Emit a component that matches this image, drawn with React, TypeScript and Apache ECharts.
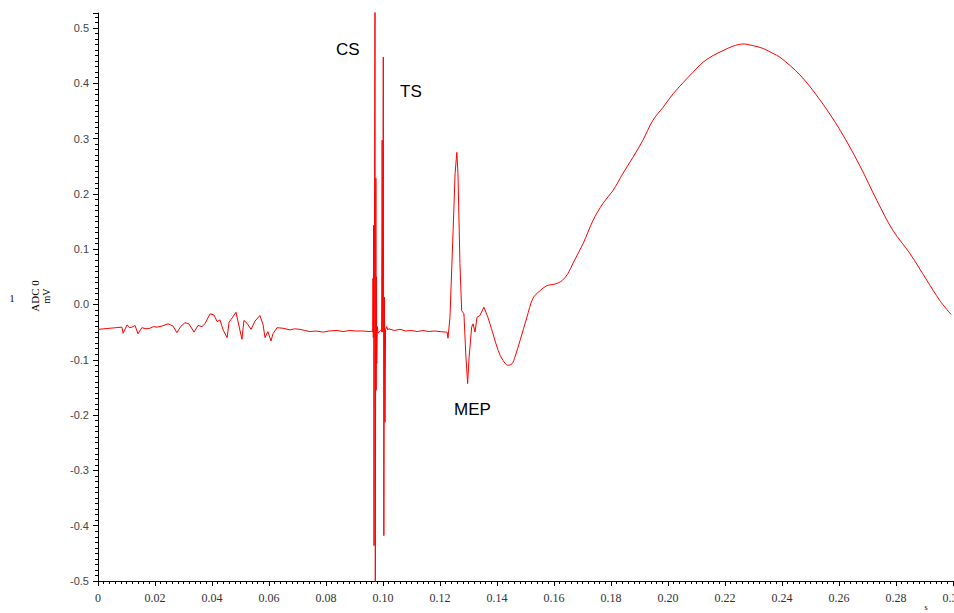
import React, { useEffect, useRef } from "react";
import * as echarts from "echarts";

// time (s), amplitude (mV)
const preBaseline: [number, number][] = [
  [0.0, -0.045], [0.0021, -0.044], [0.0042, -0.043], [0.0063, -0.042], [0.0084, -0.041],
  [0.0088, -0.052], [0.0102, -0.037], [0.0112, -0.042], [0.0119, -0.041], [0.013, -0.038],
  [0.014, -0.053], [0.0154, -0.042], [0.0168, -0.044], [0.0182, -0.043], [0.0195, -0.04],
  [0.0207, -0.041], [0.0225, -0.039], [0.0246, -0.035], [0.0263, -0.039], [0.0277, -0.051],
  [0.029, -0.04], [0.0305, -0.033], [0.0319, -0.035], [0.0337, -0.05], [0.0351, -0.038],
  [0.0365, -0.04], [0.0375, -0.035], [0.0393, -0.017], [0.0407, -0.019], [0.0418, -0.031],
  [0.0428, -0.028], [0.0439, -0.046], [0.0453, -0.06], [0.046, -0.032], [0.0474, -0.022],
  [0.0484, -0.014], [0.0491, -0.03], [0.0505, -0.063], [0.0512, -0.029], [0.0523, -0.034],
  [0.0537, -0.045], [0.0551, -0.03], [0.0568, -0.02], [0.0579, -0.036], [0.0586, -0.06],
  [0.0596, -0.049], [0.0607, -0.066], [0.0614, -0.053], [0.0628, -0.042], [0.0649, -0.043],
  [0.0674, -0.046], [0.069, -0.044], [0.0709, -0.045], [0.0725, -0.047], [0.0744, -0.049],
  [0.0765, -0.048], [0.079, -0.05], [0.081, -0.048], [0.0839, -0.047], [0.086, -0.049],
  [0.0884, -0.047], [0.0905, -0.048], [0.093, -0.048], [0.0955, -0.049],
];

const csArtifact: [number, number][] = [
  [0.0961, -0.048], [0.0964, -0.05], [0.0965, 0.047], [0.0966, -0.06], [0.0967, 0.143],
  [0.09685, -0.436], [0.097, 0.1], [0.0972, 0.56], [0.0973, -0.56], [0.0975, 0.228],
  [0.0976, -0.155], [0.0977, 0.05], [0.0978, -0.107], [0.098, -0.04], [0.0983, -0.052],
  [0.0987, -0.049], [0.0991, -0.047], [0.0995, -0.049],
];

const tsArtifact: [number, number][] = [
  [0.0996, -0.048], [0.0997, 0.297], [0.0999, -0.05], [0.1001, 0.447], [0.1003, -0.418],
  [0.1005, 0.013], [0.1007, -0.213], [0.1009, -0.045], [0.1013, -0.04], [0.1017, -0.046],
];

const midBaseline: [number, number][] = [
  [0.102, -0.044], [0.104, -0.047], [0.106, -0.045], [0.108, -0.048], [0.11, -0.047],
  [0.112, -0.049], [0.114, -0.047], [0.116, -0.049], [0.118, -0.048], [0.12, -0.049],
  [0.122, -0.05],
];

const mepResponse: [number, number][] = [
  [0.1225, -0.05], [0.1228, -0.061], [0.1235, -0.023], [0.1246, 0.134], [0.1253, 0.237],
  [0.1259, 0.275], [0.1263, 0.237], [0.127, 0.074], [0.1276, -0.011], [0.1284, -0.017],
  [0.1291, -0.095], [0.1297, -0.143], [0.1302, -0.096], [0.1311, -0.041], [0.1316, -0.035],
  [0.1323, -0.05], [0.133, -0.023], [0.134, -0.02], [0.1354, -0.005], [0.1368, -0.023],
];

const lateWave: [number, number][] = [
  [0.1368, -0.023],
  [0.1386, -0.053], [0.1404, -0.083], [0.1421, -0.101], [0.1439, -0.11], [0.1453, -0.107],
  [0.1463, -0.095], [0.1481, -0.065], [0.1505, -0.023], [0.1526, 0.011], [0.1551, 0.025],
  [0.1575, 0.034], [0.1604, 0.037], [0.1628, 0.043], [0.1649, 0.056], [0.1667, 0.075],
  [0.1702, 0.11], [0.1737, 0.152], [0.1772, 0.183], [0.1807, 0.206], [0.1842, 0.237],
  [0.1877, 0.266], [0.1912, 0.297], [0.1947, 0.333], [0.1982, 0.356], [0.2018, 0.381],
  [0.2053, 0.401], [0.2088, 0.42], [0.2123, 0.438], [0.2158, 0.45], [0.2193, 0.459],
  [0.2228, 0.467], [0.2263, 0.471], [0.2298, 0.468], [0.2333, 0.463], [0.2368, 0.454],
  [0.2393, 0.447], [0.2463, 0.415], [0.2533, 0.37], [0.2604, 0.315], [0.2674, 0.25],
  [0.2733, 0.188], [0.2789, 0.134], [0.2849, 0.092], [0.2909, 0.043], [0.2954, 0.007],
  [0.2993, -0.018],
];

const annotations = [
  { text: "CS", x: 336, y: 41 },
  { text: "TS", x: 400, y: 83 },
  { text: "MEP", x: 454, y: 401 },
];

export default function App() {
  const ref = useRef<HTMLDivElement>(null);
  useEffect(() => {
    if (!ref.current) return;
    const chart = echarts.init(ref.current, undefined, { renderer: "svg" });
    const sharpData = [
      ...preBaseline,
      ...csArtifact,
      ...tsArtifact,
      ...midBaseline,
      ...mepResponse,
    ];
    const lineStyle = { color: "#ff0000", width: 1 };
    chart.setOption({
      animation: false,
      backgroundColor: "#ffffff",
      grid: { left: 98, right: 1, top: 13, bottom: 32, containLabel: false, outerBoundsMode: "none" },
      xAxis: {
        type: "value",
        min: 0,
        max: 0.3,
        interval: 0.02,
        axisLine: { onZero: false, lineStyle: { color: "#000", width: 1 } },
        axisTick: { show: true, length: 5, lineStyle: { color: "#000" } },
        minorTick: { show: true, splitNumber: 10, length: 3, lineStyle: { color: "#000" } },
        splitLine: { show: false },
        axisLabel: {
          margin: 11,
          color: "#333",
          fontFamily: "Liberation Serif",
          fontSize: 12,
          showMaxLabel: true,
          formatter: (v: number) => (v === 0 ? "0" : v.toFixed(2)),
        },
      },
      yAxis: {
        type: "value",
        min: -0.5,
        max: 0.527,
        interval: 0.1,
        axisLine: { show: true, onZero: false, lineStyle: { color: "#000", width: 1 } },
        axisTick: { show: true, length: 5, lineStyle: { color: "#000" } },
        minorTick: { show: true, splitNumber: 10, length: 3, lineStyle: { color: "#000" } },
        splitLine: { show: false },
        axisLabel: {
          margin: 9,
          color: "#444",
          fontFamily: "Liberation Sans",
          fontSize: 11,
          formatter: (v: number) =>
            Math.abs(v * 10 - Math.round(v * 10)) < 1e-6 ? v.toFixed(1) : "",
        },
      },
      series: [
        {
          type: "line",
          data: sharpData,
          showSymbol: false,
          clip: true,
          lineStyle,
          itemStyle: { color: "#ff0000" },
        },
        {
          type: "line",
          data: lateWave,
          showSymbol: false,
          clip: true,
          smooth: 0.35,
          lineStyle,
          itemStyle: { color: "#ff0000" },
        },
      ],
      graphic: [
        ...annotations.map((a) => ({
          type: "text",
          left: a.x,
          top: a.y,
          style: { text: a.text, fill: "#000", font: "17px 'Liberation Sans', Arial, sans-serif" },
        })),
        {
          type: "text",
          x: 12,
          y: 298,
          style: { text: "1", fill: "#000", font: "10px 'Liberation Serif', serif", align: "center", verticalAlign: "middle" },
        },
        {
          type: "text",
          x: 35,
          y: 296,
          rotation: Math.PI / 2,
          style: { text: "ADC 0", fill: "#000", font: "11px 'Liberation Serif', serif", align: "center", verticalAlign: "middle" },
        },
        {
          type: "text",
          x: 46,
          y: 296,
          rotation: Math.PI / 2,
          style: { text: "mV", fill: "#000", font: "10px 'Liberation Serif', serif", align: "center", verticalAlign: "middle" },
        },
        {
          type: "text",
          x: 926,
          y: 607,
          style: { text: "s", fill: "#000", font: "8px 'Liberation Serif', serif", align: "center", verticalAlign: "middle" },
        },
      ],
    });
    return () => chart.dispose();
  }, []);
  return (
    <div
      ref={ref}
      style={{ position: "absolute", left: 0, top: 0, width: 954, height: 613 }}
    />
  );
}
